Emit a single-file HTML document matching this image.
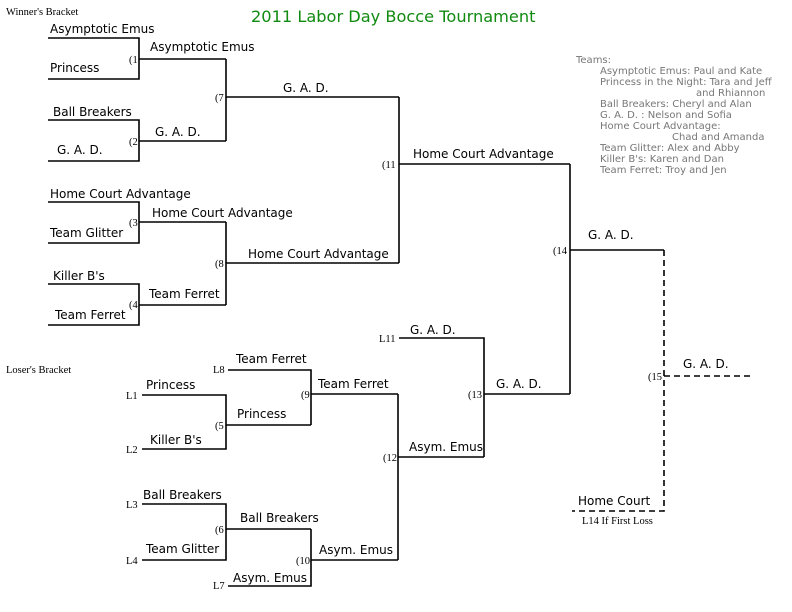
<!DOCTYPE html>
<html><head><meta charset="utf-8"><style>
html,body{margin:0;padding:0;background:#fff;}
svg{display:block;}
.t{font-family:"DejaVu Sans","Liberation Sans",sans-serif;font-size:12px;fill:#000;}
.s{font-family:"Liberation Serif",serif;font-size:10.5px;fill:#000;}
.g{font-family:"DejaVu Sans","Liberation Sans",sans-serif;font-size:10px;fill:#777;}
</style></head><body>
<svg width="792" height="612" xmlns="http://www.w3.org/2000/svg">
<g stroke="#000" stroke-width="1.6" fill="none">
<path d="M48 38H139V79H48"/><path d="M139 59H226"/>
<path d="M48 120H139V161H48"/><path d="M139 141H226"/>
<path d="M48 202H139V243H48"/><path d="M139 222H226"/>
<path d="M48 284H139V325H48"/><path d="M139 305H226"/>
<path d="M226 59V141"/><path d="M226 97H399"/>
<path d="M226 222V305"/><path d="M226 263H399"/>
<path d="M399 97V263"/><path d="M399 164H570"/>
<path d="M570 164V394"/><path d="M570 250H664"/>
<path d="M142 395H226V449H142"/><path d="M226 425H311"/>
<path d="M228 370H311V425"/><path d="M311 394H398"/>
<path d="M142 504H226V560H142"/><path d="M226 529H311"/>
<path d="M228 586H311V529"/><path d="M311 560H398"/>
<path d="M398 394V560"/><path d="M398 457H484"/>
<path d="M399 338H484V457"/><path d="M484 394H570"/>
</g>
<g stroke="#000" stroke-width="1.6" fill="none" stroke-dasharray="6,4">
<path d="M664 250V511H572"/><path d="M664 376H752"/>
</g>
<text x="251" y="22" font-family="DejaVu Sans,Liberation Sans,sans-serif" font-size="16.2" fill="#108a10">2011 Labor Day Bocce Tournament</text>
<text class="s" x="6" y="15">Winner's Bracket</text>
<text class="s" x="6" y="373">Loser's Bracket</text>
<g class="t">
<text x="50" y="33">Asymptotic Emus</text>
<text x="50" y="72">Princess</text>
<text x="150" y="51">Asymptotic Emus</text>
<text x="53" y="116">Ball Breakers</text>
<text x="57" y="154">G. A. D.</text>
<text x="155" y="136">G. A. D.</text>
<text x="283" y="92">G. A. D.</text>
<text x="50" y="198">Home Court Advantage</text>
<text x="50" y="237">Team Glitter</text>
<text x="152" y="217">Home Court Advantage</text>
<text x="53" y="280">Killer B's</text>
<text x="55" y="319">Team Ferret</text>
<text x="149" y="298">Team Ferret</text>
<text x="248" y="258">Home Court Advantage</text>
<text x="413" y="158">Home Court Advantage</text>
<text x="588" y="239">G. A. D.</text>
<text x="146" y="389">Princess</text>
<text x="150" y="444">Killer B's</text>
<text x="237" y="418">Princess</text>
<text x="236" y="363">Team Ferret</text>
<text x="318" y="388">Team Ferret</text>
<text x="143" y="499">Ball Breakers</text>
<text x="146" y="553">Team Glitter</text>
<text x="240" y="522">Ball Breakers</text>
<text x="233" y="582">Asym. Emus</text>
<text x="319" y="554">Asym. Emus</text>
<text x="409" y="451">Asym. Emus</text>
<text x="410" y="334">G. A. D.</text>
<text x="496" y="388">G. A. D.</text>
<text x="683" y="368">G. A. D.</text>
<text x="578" y="505">Home Court</text>
</g>
<g class="s">
<text x="129" y="63">(1</text><text x="129" y="145">(2</text>
<text x="129" y="226">(3</text><text x="129" y="308">(4</text>
<text x="215" y="101">(7</text><text x="215" y="267">(8</text>
<text x="382" y="168">(11</text><text x="553" y="254">(14</text>
<text x="379" y="342">L11</text><text x="468" y="398">(13</text>
<text x="383" y="461">(12</text><text x="648" y="380">(15</text>
<text x="126" y="399">L1</text><text x="126" y="453">L2</text>
<text x="126" y="508">L3</text><text x="126" y="564">L4</text>
<text x="213" y="373">L8</text><text x="213" y="589">L7</text>
<text x="215" y="429">(5</text><text x="215" y="533">(6</text>
<text x="301" y="398">(9</text><text x="296" y="564">(10</text>
<text x="582" y="524">L14 If First Loss</text>
</g>
<g class="g">
<text x="576" y="63">Teams:</text>
<text x="600" y="74">Asymptotic Emus: Paul and Kate</text>
<text x="600" y="85">Princess in the Night: Tara and Jeff</text>
<text x="696" y="96">and Rhiannon</text>
<text x="600" y="107">Ball Breakers: Cheryl and Alan</text>
<text x="600" y="118">G. A. D. : Nelson and Sofia</text>
<text x="600" y="129">Home Court Advantage:</text>
<text x="672" y="140">Chad and Amanda</text>
<text x="600" y="151">Team Glitter: Alex and Abby</text>
<text x="600" y="162">Killer B's: Karen and Dan</text>
<text x="600" y="173">Team Ferret: Troy and Jen</text>
</g>
</svg>
</body></html>
